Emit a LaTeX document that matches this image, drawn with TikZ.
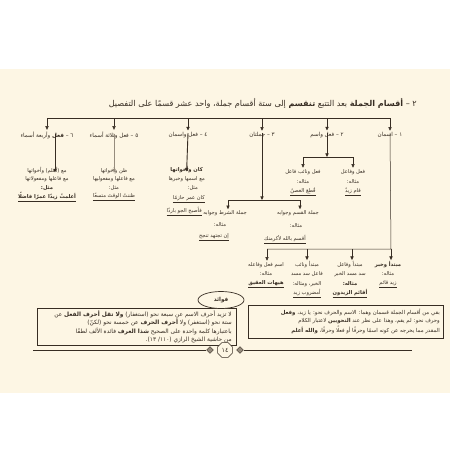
\documentclass[tikz,border=0pt]{standalone}
\usepackage{fontspec}
\newfontfamily\arabicfont[Script=Arabic]{DejaVu Sans}
\TeXXeTstate=1
\usetikzlibrary{arrows.meta,shapes.geometric}
\definecolor{page}{RGB}{253,246,228}
\definecolor{ink}{RGB}{55,45,35}
\definecolor{soft}{RGB}{150,140,125}
\newcommand\AR[1]{{\arabicfont\beginR #1\endR}}
\newcommand\ARb[1]{{\arabicfont\bfseries\beginR #1\endR}}
\newcommand\ARu[1]{\underline{\AR{#1}}}
\begin{document}
\begin{tikzpicture}[x=1pt,y=-1pt,
  ln/.style={draw=ink,line width=0.5pt},
  arr/.style={ln,-{Triangle[width=3.2pt,length=3.6pt]}},
  t/.style={text=ink,inner sep=0pt,font=\fontsize{5.2}{6}\selectfont},
  hd/.style={text=ink,inner sep=0pt,font=\fontsize{5.6}{6.5}\selectfont},
  bx/.style={text=ink,inner sep=0pt,font=\fontsize{5.4}{6}\selectfont,anchor=east},
  bxl/.style={bx,font=\fontsize{5.85}{6.5}\selectfont},
  frame/.style={draw=ink,line width=0.5pt,fill=page}]
\useasboundingbox (0,0) rectangle (450,450);
\fill[white] (0,0) rectangle (450,450);
\fill[page] (0,69) rectangle (450,393);

% title
\node[text=ink,inner sep=0pt,font=\fontsize{8.1}{9}\selectfont,anchor=east] (title) at (417,103)
  {\AR{٢ – {\bfseries أقسام الجملة} بعد التتبع {\bfseries تنقسم} إلى ستة أقسام جملة، واحد عشر قسمًا على التفصيل}};

% top bar and six headings
\coordinate (bL) at (48,118);
\coordinate (bR) at (391,118);
\draw[ln] (bL) -- (bR);
\node[hd] (c6) at (47,135) {\AR{٦ – {\bfseries فعل} وأربعة أسماء}};
\node[hd] (c5) at (114,135) {\AR{٥ – فعل وثلاثة أسماء}};
\node[hd] (c4) at (188,135) {\AR{٤ – فعل واسمان}};
\node[hd] (c3) at (262,135) {\AR{٣ – جملتان}};
\node[hd] (c2) at (327,135) {\AR{٢ – فعل واسم}};
\node[hd] (c1) at (390,135) {\AR{١ – اسمان}};
\foreach \c in {c6,c5,c4,c3,c2,c1}
  \draw[arr,shorten >=1.5pt] (\c |- bL) -- (\c.north);

% column 6
\node[t] (c6a) at (47,171) {\AR{مع (أعلم) وأخواتها}};
\node[t] (c6b) at (47,179) {\AR{مع فاعلها ومفعولاتها}};
\node[t] (c6c) at (47,188) {\ARb{مثل:}};
\node[t] (c6d) at (47,197) {\underline{\ARb{أعلمتُ زيدًا عمرًا فاضلًا}}};
\coordinate (a6) at ([xshift=8pt,yshift=-5pt]c6a.north);
\draw[arr,line width=0.9pt] ([xshift=8pt,yshift=5pt]c6.south) -- (a6);

% column 5
\node[t] (c5a) at (114,171) {\AR{ظن وأخواتها}};
\node[t] (c5b) at (114,179) {\AR{مع فاعلها ومفعوليها}};
\node[t] (c5c) at (114,188) {\AR{مثل:}};
\node[t] (c5d) at (114,197) {\ARu{ظننتُ الوقتَ متسعًا}};
\draw[arr,draw=soft] ([yshift=5pt]c5.south) -- ([yshift=-5pt]c5a.north);

% column 4
\node[t,anchor=east] (c4a) at (203,170) {\ARb{كان وأخواتها}};
\node[t,anchor=east] (c4b) at (205,179) {\AR{مع اسمها وخبرها}};
\node[t,anchor=east] (c4c) at (198,188) {\AR{مثل:}};
\node[t,anchor=east] (c4d) at (205,199) {\ARu{كان عمر حازمًا}};
\node[t,anchor=east] (c4e) at (202,211) {\ARu{فأصبح الجو باردًا}};
\draw[arr,line width=0.9pt] ([yshift=5pt]c4.south) -- ([yshift=-5pt]c4a.north);

% column 3
\coordinate (j3) at (262,200);
\coordinate (j3L) at (228,200);
\coordinate (j3R) at (300,200);
\draw[arr,line width=0.8pt] ([yshift=5pt]c3.south) -- (j3);
\draw[ln] (j3L) -- (j3R);
\node[t,anchor=east] (s1) at (247,213) {\AR{جملة الشرط وجوابه}};
\node[t] (s1b) at (220,225) {\AR{مثاله:}};
\node[t] (s1c) at (214,237) {\ARu{إن تجتهد تنجح}};
\node[t] (q1) at (298,213) {\AR{جملة القسم وجوابه}};
\node[t] (q1b) at (296,226) {\AR{مثاله:}};
\node[t] (q1c) at (285,240) {\ARu{أقسم بالله لأكرمنك}};
\draw[arr,shorten >=1pt] (j3L) -- (j3L |- s1.north);
\draw[arr,shorten >=1pt] (j3R) -- (j3R |- q1.north);

% column 2
\coordinate (j2) at (327,157);
\coordinate (j2L) at (303,157);
\coordinate (j2R) at (353,157);
\draw[arr] ([yshift=5pt]c2.south) -- (j2);
\draw[ln] (j2L) -- (j2R);
\node[t] (n1) at (303,172) {\AR{فعل ونائب فاعل}};
\node[t] (n1b) at (303,182) {\AR{مثاله:}};
\node[t] (n1c) at (303,192) {\ARu{قُطِعَ الغصنُ}};
\node[t] (f1) at (353,172) {\AR{فعل وفاعل}};
\node[t] (f1b) at (353,182) {\AR{مثاله:}};
\node[t] (f1c) at (353,192) {\ARu{قام زيدٌ}};
\draw[arr,shorten >=1.5pt] (j2L) -- (j2L |- n1.north);
\draw[arr,shorten >=1.5pt] (j2R) -- (j2R |- f1.north);

% column 1
\coordinate (j1) at (391,249);
\coordinate (j1L) at (267,249);
\draw[ln] ([yshift=5pt]c1.south) -- (j1) -- (j1L);
\node[t] (m1) at (388,265) {\ARb{مبتدأ وخبر}};
\node[t] (m1b) at (388,274) {\AR{مثاله:}};
\node[t] (m1c) at (388,284) {\ARu{زيد قائم}};
\node[t] (m2) at (350,265) {\AR{مبتدأ وفاعل}};
\node[t] (m2b) at (350,274) {\AR{سد مسد الخبر}};
\node[t] (m2c) at (350,284) {\ARb{مثاله:}};
\node[t] (m2d) at (350,294) {\underline{\ARb{أقائم الزيدون}}};
\node[t] (m3) at (307,265) {\AR{مبتدأ ونائب}};
\node[t] (m3b) at (307,274) {\AR{فاعل سد مسد}};
\node[t] (m3c) at (307,284) {\AR{الخبر، ومثاله:}};
\node[t] (m3d) at (307,294) {\ARu{أمضروب زيد}};
\node[t] (m4) at (266,265) {\AR{اسم فعل وفاعله}};
\node[t] (m4b) at (266,274) {\AR{مثاله:}};
\node[t] (m4c) at (266,284) {\underline{\ARb{هيهات العقيق}}};
\coordinate (k1) at (391,249);
\coordinate (k2) at (352,249);
\coordinate (k3) at (307,249);
\coordinate (k4) at (267,249);
\draw[arr,shorten >=1.5pt] (k1) -- (k1 |- m1.north);
\draw[arr,shorten >=1.5pt] (k2) -- (k2 |- m2.north);
\draw[arr,shorten >=1.5pt] (k3) -- (k3 |- m3.north);
\draw[arr,shorten >=1.5pt] (k4) -- (k4 |- m4.north);

% boxes
\node[frame,minimum width=199pt,minimum height=37pt,anchor=north west,inner sep=0pt] (boxL) at (37,308) {};
\node[bxl] (l1) at (232,314) {\AR{لا تزيد أحرف الاسم عن سبعة نحو (استغفار) {\bfseries ولا تقل أحرف الفعل} عن}};
\node[bxl] (l2) at (232,322.5) {\AR{ستة نحو (استغفر) ولا {\bfseries أحرف الحرف} عن خمسة نحو (لكنّ)}};
\node[bxl] (l3) at (232,331) {\AR{باعتبارها كلمة واحدة على الصحيح {\bfseries شذا العرف} فائدة الألف لطفًا}};
\node[bxl] (l4) at (232,339.5) {\AR{من حاشية الشيخ الرازي (١١٠/ ١٣).}};

\node[frame,minimum width=195pt,minimum height=33pt,anchor=north west,inner sep=0pt] (boxR) at (248,305) {};
\node[bx] (r1) at (440,312) {\AR{بقي من أقسام الجملة قسمان وهما: الاسم والحرف نحو: يا زيد، {\bfseries وفعل}}};
\node[bx] (r2) at (440,321) {\AR{وحرف نحو: لم يقم، وهذا على نظر عند {\bfseries النحويين} لاعتبار الكلام}};
\node[bx] (r3) at (440,330) {\AR{المقدر مما يخرجه عن كونه اسمًا وحرفًا أو فعلًا وحرفًا، {\bfseries والله أعلم}}};

% fawa'id ellipse
\node[ellipse,draw=ink,line width=0.7pt,fill=page,minimum width=46pt,minimum height=17pt,inner sep=0pt,
  text=ink,font=\fontsize{5.6}{6}\selectfont] (faw) at (221,300) {\ARb{فوائد}};

% bottom rule and page number
\node[regular polygon,regular polygon sides=8,draw=ink,line width=0.6pt,fill=page,minimum size=16pt,inner sep=0pt,
  text=ink,font=\fontsize{6.5}{7}\selectfont] (pg) at (225,350) {\AR{١٤}};
\node[diamond,draw=ink,fill=soft,minimum size=7pt,inner sep=0pt] (dl) at (210,350) {};
\node[diamond,draw=ink,fill=soft,minimum size=7pt,inner sep=0pt] (dr) at (240,350) {};
\coordinate (eL) at (33,350);
\coordinate (eR) at (412,350);
\draw[ln,line width=0.7pt] (eL) -- (dl.west);
\draw[ln,line width=0.7pt] (dr.east) -- (eR);
\end{tikzpicture}
\end{document}
